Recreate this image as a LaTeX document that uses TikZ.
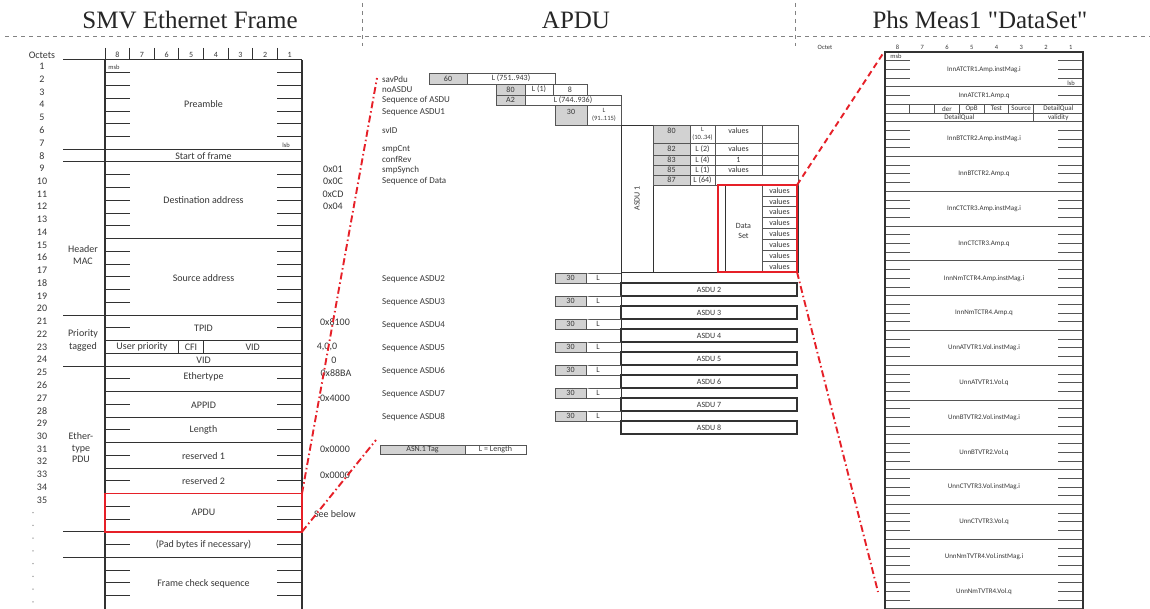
\documentclass[tikz,border=0pt]{standalone}
\usepackage{fontspec}
\setmainfont{Liberation Serif}
\newfontfamily\calf{Carlito}
\definecolor{txt}{RGB}{55,55,55}
\definecolor{ln}{RGB}{50,50,50}
\definecolor{mln}{RGB}{85,85,85}
\definecolor{gfill}{RGB}{210,210,210}
\definecolor{redl}{RGB}{230,32,40}
\definecolor{sepc}{RGB}{130,130,130}
\tikzset{
  tab/.style={draw=ln, line width=1pt},
  tabv/.style={draw=ln, line width=1.4pt},
  tick/.style={draw=ln, line width=0.8pt},
  lt/.style={font=\calf\fontsize{10}{12.5}\selectfont, text=txt, inner sep=0pt},
  tiny/.style={font=\calf\fontsize{6.5}{7}\selectfont, text=txt, inner sep=0pt},
  hnum/.style={font=\calf\fontsize{8}{8}\selectfont, text=txt, inner sep=0pt},
  mt/.style={font=\calf\fontsize{9}{10}\selectfont, text=txt, inner sep=0pt, anchor=west},
  bt/.style={font=\calf\fontsize{8}{8.5}\selectfont, text=txt, inner sep=0pt},
  bt2/.style={font=\calf\fontsize{6.5}{7.5}\selectfont, text=txt, inner sep=0pt, align=center},
  rt/.style={font=\calf\fontsize{7}{8}\selectfont, text=txt, inner sep=0pt},
  gcell/.style={draw=mln, fill=gfill, line width=0.7pt},
  wcell/.style={draw=mln, fill=white, line width=0.7pt},
  mline/.style={draw=ln, line width=0.9pt},
  abox/.style={draw=ln, line width=1.3pt},
  rtab/.style={draw=ln, line width=2pt},
  rrow/.style={draw=mln, line width=0.8pt},
  rtick/.style={draw=mln, line width=0.7pt},
  redbox/.style={draw=redl, line width=1.8pt, inner sep=0pt, outer sep=0pt},
  reddd/.style={draw=redl, line width=1.9pt, dash pattern=on 7pt off 3pt on 1.5pt off 3pt},
  reddash/.style={draw=redl, line width=1.9pt, dash pattern=on 6pt off 4pt},
  sepl/.style={draw=sepc, line width=0.8pt, dash pattern=on 4pt off 4pt},
  title/.style={font=\fontsize{25}{28}\selectfont, text=black!85, inner sep=0pt},
}
\newcommand\cellbox[6]{%
  \draw[#1] ({#2},{#4}) rectangle ({#3},{#5});
  \node[bt] at ({(#2+#3)/2},{(#4+#5)/2}) {#6};}
\begin{document}
\begin{tikzpicture}[x=1pt,y=-1pt]
\fill[white] (0,0) rectangle (1150,609);
\useasboundingbox (0,0) rectangle (1150,609);

% ---------- titles and separators ----------
\draw[sepl] (5,36) -- (1150,36);
\draw[sepl] (362,3) -- (362,46);
\draw[sepl] (795,3) -- (795,46);
\node[title] (t1) at (190,20) {SMV Ethernet Frame};
\node[title] (t2) at (576,20) {APDU};
\node[title] (t3) at (980,20) {Phs Meas1 \textquotedbl DataSet\textquotedbl};

% ---------- left: SMV Ethernet frame ----------
\node[lt] (octets) at (42,55) {Octets};
\foreach \i in {0,...,7} \draw[tick] ({105+24.625*\i},48) -- ({105+24.625*\i},60);
\foreach \n [count=\i from 0] in {8,7,6,5,4,3,2,1}
  \node[hnum] at ({117.3+24.625*\i},55) {\n};
\draw[tabv] (105,60) -- (105,609);
\draw[tabv] (302,60) -- (302,609);
\foreach \k in {7,8,14,20,22,23,24,26,28,30,32,34,37,39}
  \draw[tab] (105,{60+12.75*\k}) -- (302,{60+12.75*\k});
\foreach \k in {0,7,8,20,24,37,39}
  \draw[tab] (63,{60+12.75*\k}) -- (105,{60+12.75*\k});
\draw[tab] (63,60) -- (302,60);
\foreach \k in {1,2,3,4,5,6,9,10,11,12,13,15,16,17,18,19,21,25,27,29,31,33,35,36,38,40,41,42} {
  \draw[tick] (105,{60+12.75*\k}) -- (129.6,{60+12.75*\k});
  \draw[tick] (277.4,{60+12.75*\k}) -- (302,{60+12.75*\k});
}
\draw[tab] (178.9,{60+12.75*22}) -- (178.9,{60+12.75*23});
\draw[tab] (203.5,{60+12.75*22}) -- (203.5,{60+12.75*23});
\foreach \n in {1,...,35} \node[lt] at (42,{60+12.75*(\n-0.5)}) {\n};
\foreach \n in {36,...,43} \fill[txt!60] (33,{60+12.75*(\n-0.5)}) circle (0.7);

\node[tiny] (msb) at (114,67) {msb};
\node[tiny] (lsb) at (286,145) {lsb};
\node[lt] (pre) at (203.5,104) {Preamble};
\node[lt] (sof) at (203.5,156) {Start of frame};
\node[lt] (dst) at (203.5,200) {Destination address};
\node[lt] (src) at (203.5,278) {Source address};
\node[lt] (tpid) at (203.5,328) {TPID};
\node[lt] (upr) at (142,347) {User priority};
\node[lt] (cfi) at (191,347) {CFI};
\node[lt] (vid1) at (252.7,347) {VID};
\node[lt] (vid2) at (203.5,360) {VID};
\node[lt] (ety) at (203.5,377) {Ethertype};
\node[lt] (appid) at (203.5,405) {APPID};
\node[lt] (len) at (203.5,430) {Length};
\node[lt] (res1) at (203.5,456) {reserved 1};
\node[lt] (res2) at (203.5,481) {reserved 2};
\node[redbox, lt, minimum width=197pt, minimum height=38.25pt] (apdubox) at (203.5,512.6) {APDU};
\node[lt] (pad) at (203.5,545) {(Pad bytes if necessary)};
\node[lt] (fcs) at (203.5,584) {Frame check sequence};

\node[lt, align=center] (hmac) at (83,255) {Header\\MAC};
\node[lt, align=center] (prio) at (83,340.5) {Priority\\tagged};
\node[lt, align=center, font=\calf\fontsize{10}{11.5}\selectfont] (etpdu) at (81,448) {Ether-\\type\\PDU};

\node[lt] (v1) at (333,169) {0x01};
\node[lt] (v2) at (333,181) {0x0C};
\node[lt] (v3) at (333,194) {0xCD};
\node[lt] (v4) at (333,206) {0x04};
\node[lt] (v5) at (335,322) {0x8100};
\node[lt] (v6) at (327,347) {4,0,0};
\node[lt] (v7) at (334,360) {0};
\node[lt] (v8) at (336,373) {0x88BA};
\node[lt] (v9) at (335,398) {0x4000};
\node[lt] (v10) at (335,449) {0x0000};
\node[lt] (v11) at (335,475) {0x0000};
\node[lt] (v12) at (335,514) {See below};

% ---------- middle: APDU ----------
\node[mt] at (382,79) {savPdu};
\node[mt] at (382,90) {noASDU};
\node[mt] at (382,100) {Sequence of ASDU};
\node[mt] at (382,112) {Sequence ASDU1};
\node[mt] at (382,131) {svID};
\node[mt] at (382,149) {smpCnt};
\node[mt] at (382,159) {confRev};
\node[mt] at (382,170) {smpSynch};
\node[mt] at (382,181) {Sequence of Data};

\cellbox{gcell}{429}{467}{73}{84}{60}
\cellbox{wcell}{467}{555}{73}{84}{L (751..943)}
\cellbox{gcell}{496}{525}{84}{95}{80}
\cellbox{wcell}{525}{553}{84}{95}{L (1)}
\cellbox{wcell}{553}{587}{84}{95}{8}
\cellbox{gcell}{496}{525}{95}{105}{A2}
\cellbox{wcell}{525}{621}{95}{105}{L (744..936)}
\draw[gcell] (555,105) rectangle (587,125);
\node[bt] at (571,112) {30};
\draw[wcell] (587,105) rectangle (621,125);
\node[bt2] at (604,115) {L\\(91..115)};

% ASDU 1
\draw[mline] (621,125) rectangle (798,272);
\draw[mline] (653,125) -- (653,272);
\draw[mline] (621,125) -- (621,434);
\node[bt, rotate=90] (asdu1) at (637,198.5) {ASDU 1};
\draw[gcell] (653,125) rectangle (690,143); \node[bt] at (671.5,131) {80};
\draw[wcell] (690,125) rectangle (715,143); \node[bt2] at (702.5,134) {L\\(10..34)};
\draw[wcell] (715,125) rectangle (762,143); \node[bt] at (738.5,131) {values};
\draw[wcell] (762,125) rectangle (798,143);
\cellbox{gcell}{653}{690}{143}{155}{82}
\cellbox{wcell}{690}{715}{143}{155}{L (2)}
\cellbox{wcell}{715}{762}{143}{155}{values}
\cellbox{wcell}{762}{798}{143}{155}{}
\cellbox{gcell}{653}{690}{155}{165}{83}
\cellbox{wcell}{690}{715}{155}{165}{L (4)}
\cellbox{wcell}{715}{762}{155}{165}{1}
\cellbox{wcell}{762}{798}{155}{165}{}
\cellbox{gcell}{653}{690}{165}{175}{85}
\cellbox{wcell}{690}{715}{165}{175}{L (1)}
\cellbox{wcell}{715}{762}{165}{175}{values}
\cellbox{wcell}{762}{798}{165}{175}{}
\cellbox{gcell}{653}{690}{175}{185}{87}
\cellbox{wcell}{690}{715}{175}{185}{L (64)}
\cellbox{wcell}{715}{798}{175}{185}{}
% data set
\draw[mline] (725,185) rectangle (797,272);
\node[bt, align=center, font=\calf\fontsize{8}{10}\selectfont] (dsl) at (743.5,230.5) {Data\\Set};
\foreach \i in {0,...,7}
  \cellbox{wcell}{762}{797}{185+10.875*\i}{185+10.875*(\i+1)}{values}
\node[redbox, minimum width=79pt, minimum height=87pt] (dsbox) at (757.5,228.5) {};

% ASDU 2..8
\foreach \k in {0,...,6} {
  \pgfmathsetmacro\yo{273+23*\k}
  \pgfmathtruncatemacro\nn{\k+2}
  \node[mt] at (382,{\yo+6}) {Sequence ASDU\nn};
  \cellbox{gcell}{555}{586}{\yo}{\yo+10}{30}
  \draw[wcell] (586,\yo) -- (621,\yo);
  \draw[wcell] (586,\yo) -- (586,{\yo+10}) -- (621,{\yo+10});
  \node[bt] at (598,{\yo+5}) {L};
  \draw[abox] (621,{\yo+10}) rectangle (797,{\yo+23});
  \node[bt] at (709,{\yo+16.5}) {ASDU \nn};
}
% legend
\cellbox{gcell}{380}{465}{445}{454}{ASN.1 Tag}
\cellbox{wcell}{465}{526}{445}{454}{L = Length}

% ---------- right: data set ----------
\node[tiny] (octet) at (825,47) {Octet};
\foreach \n [count=\i from 0] in {8,7,6,5,4,3,2,1}
  \node[tiny] at ({897.4+24.75*\i},47) {\n};
\foreach \y in {86.8,104.2,113,121.6} \draw[rrow] (885,\y) -- (1083,\y);
\foreach \j in {1,...,14} \draw[rrow] (885,{121.6+34.8*\j}) -- (1083,{121.6+34.8*\j});
\foreach \y in {60.7,69.4,78.1,95.5} {
  \draw[rtick] (885,\y) -- (909.75,\y);
  \draw[rtick] (1058.25,\y) -- (1083,\y);
}
\foreach \j in {0,...,13} \foreach \t in {1,2,3} {
  \draw[rtick] (885,{121.6+34.8*\j+8.7*\t}) -- (909.75,{121.6+34.8*\j+8.7*\t});
  \draw[rtick] (1058.25,{121.6+34.8*\j+8.7*\t}) -- (1083,{121.6+34.8*\j+8.7*\t});
}
\foreach \i in {1,...,6} \draw[rrow] ({885+24.75*\i},104.2) -- ({885+24.75*\i},113);
\draw[rrow] (1033.5,113) -- (1033.5,121.6);
\draw[rtab] (885,609) -- (885,52) -- (1083,52) -- (1083,609);
\node[tiny] (rmsb) at (896,56) {msb};
\node[tiny] (rlsb) at (1071,83) {lsb};
\node[rt] (r1) at (984,69.4) {InnATCTR1.Amp.instMag.i};
\node[rt] (r2) at (984,95.5) {InnATCTR1.Amp.q};
\node[rt] (qd) at (946.9,108.6) {der};
\node[rt] (qo) at (971.6,108.6) {OpB};
\node[rt] (qt) at (996.4,108.6) {Test};
\node[rt] (qs) at (1021.1,108.6) {Source};
\node[rt] (qq) at (1058.25,108.6) {DetailQual};
\node[rt] (qq2) at (959.25,117.3) {DetailQual};
\node[rt] (qv) at (1058.25,117.3) {validity};
\foreach \nm [count=\j from 0] in {InnBTCTR2.Amp.instMag.i,InnBTCTR2.Amp.q,InnCTCTR3.Amp.instMag.i,InnCTCTR3.Amp.q,InnNmTCTR4.Amp.instMag.i,InnNmTCTR4.Amp.q,UnnATVTR1.Vol.instMag.i,UnnATVTR1.Vol.q,UnnBTVTR2.Vol.instMag.i,UnnBTVTR2.Vol.q,UnnCTVTR3.Vol.instMag.i,UnnCTVTR3.Vol.q,UnnNmTVTR4.Vol.instMag.i,UnnNmTVTR4.Vol.q}
  \node[rt] at (984,{139+34.8*\j}) {\nm};

% ---------- red connectors ----------
\coordinate (apdutop) at (377,78);
\coordinate (legendpt) at (376,440);
\coordinate (dstop) at (884,52);
\coordinate (dsbot) at (878,592);
\draw[reddd] (apdubox.north east) -- (apdutop);
\draw[reddd] (apdubox.south east) -- (legendpt);
\draw[reddash] (dsbox.north east) -- (dstop);
\draw[reddd] (dsbox.south east) -- (dsbot);
\end{tikzpicture}
\end{document}
